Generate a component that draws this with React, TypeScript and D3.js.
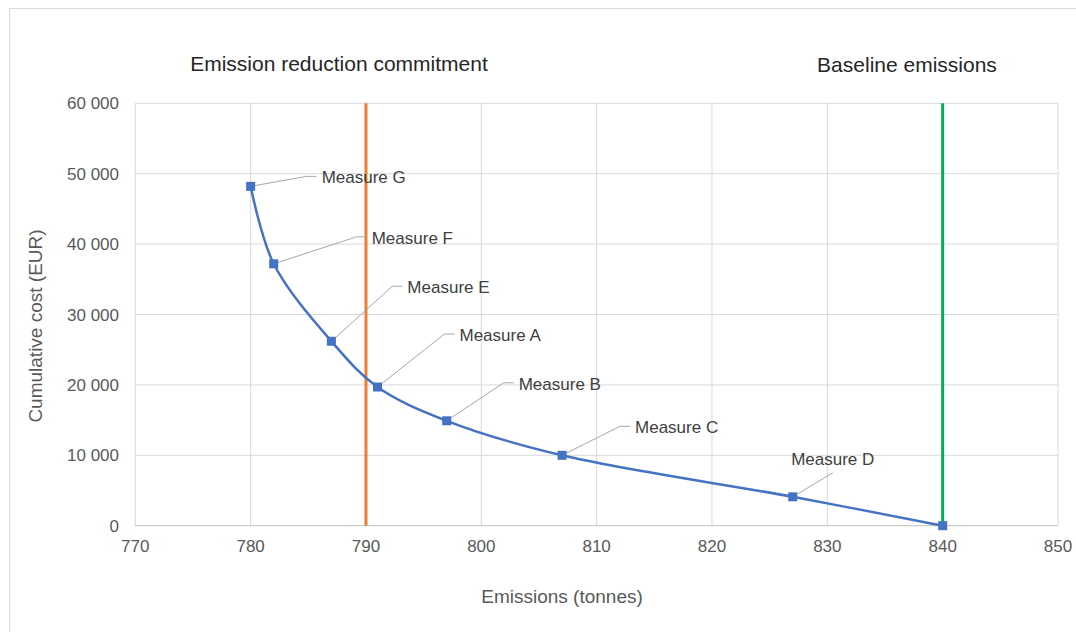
import React from "react";
import * as d3 from "d3";

const measureNames = ["Measure G", "Measure F", "Measure E", "Measure A", "Measure B", "Measure C", "Measure D", ""];
const emissions = [780, 782, 787, 791, 797, 807, 827, 840];
const cumulativeCost = [48200, 37200, 26200, 19700, 14900, 10000, 4100, 0];
const xTicks = [770, 780, 790, 800, 810, 820, 830, 840, 850];
const yTicks = [0, 10000, 20000, 30000, 40000, 50000, 60000];
const commitment = 790;
const baseline = 840;

// leader knee offsets relative to each point (px) and label placement
const labelKnees: [number, number, string][] = [
  [56, -10, "right"],
  [83, -27, "right"],
  [61, -55, "right"],
  [67, -53, "right"],
  [57, -38, "right"],
  [58, -29, "right"],
  [40, -24, "top"],
];

const W = 1076;
const H = 632;
const left = 135.3;
const right = 1058;
const top = 103.3;
const bottom = 525.7;

export default function App() {
  const x = d3.scaleLinear().domain([770, 850]).range([left, right]);
  const y = d3.scaleLinear().domain([0, 60000]).range([bottom, top]);
  const fmt = (v: number) => d3.format(",")(v).replace(/,/g, " ");
  const pts: [number, number][] = emissions.map((e, i) => [x(e), y(cumulativeCost[i])]);
  const line = d3.line().curve(d3.curveCatmullRom.alpha(0.5))(pts) || "";
  const font = "'Liberation Sans', Arial, Helvetica, sans-serif";

  return (
    <div style={{ position: "absolute", left: 0, top: 0 }}>
      <svg width={W} height={H} style={{ display: "block", fontFamily: font }}>
        <rect x={0} y={0} width={W} height={H} fill="#fff" />
        <rect x={9.5} y={8.5} width={W + 10} height={H + 10} fill="none" stroke="#d9d9d9" strokeWidth={1} />

        {/* grid */}
        {xTicks.map((t) => (
          <line key={"gx" + t} x1={x(t)} x2={x(t)} y1={top} y2={bottom} stroke="#d9d9d9" strokeWidth={1} />
        ))}
        {yTicks.map((t) => (
          <line key={"gy" + t} x1={left} x2={right} y1={y(t)} y2={y(t)} stroke={t === 0 ? "#bfbfbf" : "#d9d9d9"} strokeWidth={1} />
        ))}

        {/* tick labels */}
        {xTicks.map((t) => (
          <text key={"tx" + t} x={x(t)} y={552} textAnchor="middle" fontSize={17} fill="#595959">
            {t}
          </text>
        ))}
        {yTicks.map((t) => (
          <text key={"ty" + t} x={119} y={y(t) + 6} textAnchor="end" fontSize={17} fill="#595959">
            {fmt(t)}
          </text>
        ))}

        {/* axis titles */}
        <text x={562} y={603} textAnchor="middle" fontSize={19} fill="#595959">
          Emissions (tonnes)
        </text>
        <text transform={`translate(42,326) rotate(-90)`} textAnchor="middle" fontSize={19} fill="#595959">
          Cumulative cost (EUR)
        </text>

        {/* reference lines */}
        <line x1={x(commitment)} x2={x(commitment)} y1={top} y2={bottom} stroke="#ED7D31" strokeWidth={3} />
        <line x1={x(baseline)} x2={x(baseline)} y1={top} y2={bottom} stroke="#00B050" strokeWidth={3} />
        <text x={x(commitment) - 27} y={71} textAnchor="middle" fontSize={21} fill="#262626">
          Emission reduction commitment
        </text>
        <text x={907} y={72} textAnchor="middle" fontSize={21} fill="#262626">
          Baseline emissions
        </text>

        {/* leader lines and labels */}
        {pts.slice(0, 7).map(([px, py], i) => {
          const [dx, dy, mode] = labelKnees[i];
          const kx = px + dx;
          const ky = py + dy;
          if (mode === "top") {
            return (
              <g key={"lab" + i}>
                <polyline points={`${px},${py} ${kx},${ky}`} fill="none" stroke="#a6a6a6" strokeWidth={1} />
                <text x={kx} y={ky - 8} textAnchor="middle" fontSize={17} fill="#404040">
                  {measureNames[i]}
                </text>
              </g>
            );
          }
          return (
            <g key={"lab" + i}>
              <polyline points={`${px},${py} ${kx},${ky} ${kx + 10},${ky}`} fill="none" stroke="#a6a6a6" strokeWidth={1} />
              <text x={kx + 15} y={ky + 7} textAnchor="start" fontSize={17} fill="#404040">
                {measureNames[i]}
              </text>
            </g>
          );
        })}

        {/* series */}
        <path d={line} fill="none" stroke="#4472C4" strokeWidth={2.5} />
        {pts.map(([px, py], i) => (
          <rect key={"m" + i} x={px - 4.5} y={py - 4.5} width={9} height={9} fill="#4472C4" />
        ))}
      </svg>
    </div>
  );
}
